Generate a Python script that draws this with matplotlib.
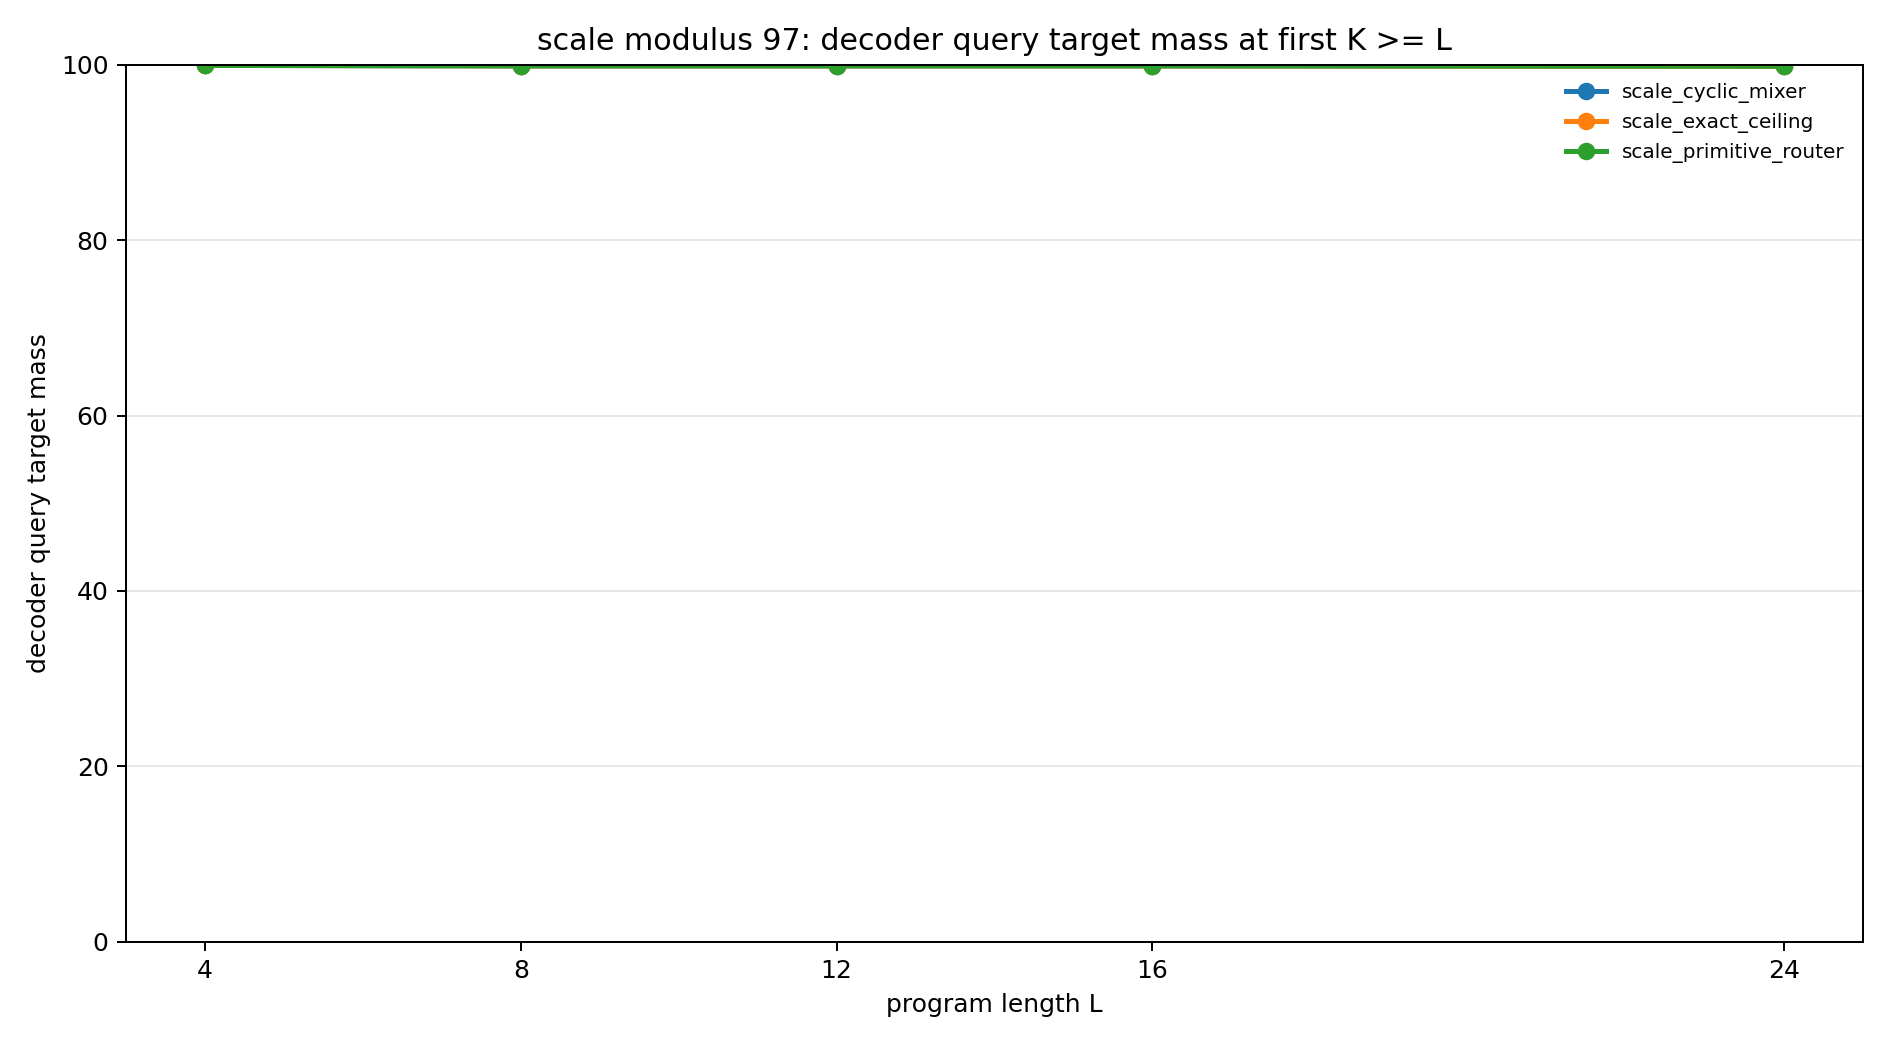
import matplotlib
matplotlib.use('Agg')
import matplotlib.pyplot as plt

lengths = [4, 8, 12, 16, 24]
cyclic_mixer = [99.95, 99.9, 99.9, 99.9, 99.85]
exact_ceiling = [99.95, 99.9, 99.9, 99.9, 99.85]
primitive_router = [99.95, 99.9, 99.9, 99.9, 99.85]

series = {
    'scale_cyclic_mixer': cyclic_mixer,
    'scale_exact_ceiling': exact_ceiling,
    'scale_primitive_router': primitive_router,
}

fig, ax = plt.subplots(figsize=(10.5, 5.8), dpi=180)
for name, vals in series.items():
    ax.plot(lengths, vals, marker='o', linewidth=2, label=name)

ax.set_ylim(0, 100)
ax.set_xticks(lengths)
ax.set_xlabel('program length L')
ax.set_ylabel('decoder query target mass')
ax.set_title('scale modulus 97: decoder query target mass at first K >= L')
ax.grid(axis='y', alpha=0.3)
ax.legend(frameon=False, fontsize=8, loc='upper right')
plt.tight_layout()
plt.savefig('out.png')
